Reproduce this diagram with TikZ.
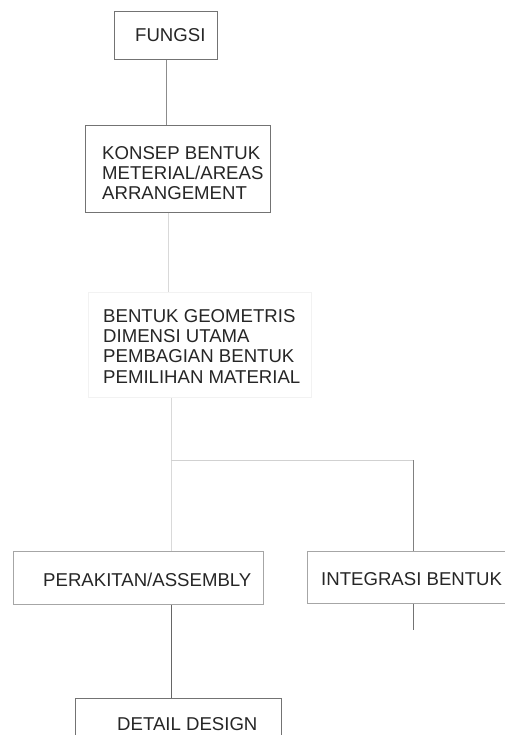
\documentclass[tikz,border=0pt]{standalone}
\usepackage{fontspec}
\setmainfont{Liberation Sans}
\begin{document}
\begin{tikzpicture}[x=1pt,y=-1pt,
  box/.style={draw=#1,line width=0.8pt,inner sep=0pt,anchor=north west},
  box/.default={black!55},
  txt/.style={anchor=base west,inner sep=0pt,text=black!85,font=\fontsize{18.6}{20}\selectfont},
  conn/.style={draw=#1,line width=0.8pt},
  conn/.default={black!45}]
\useasboundingbox (0,0) rectangle (505,735);
\clip (0,0) rectangle (505,735);
\fill[white] (0,0) rectangle (505,735);
% boxes
\node[box, minimum width=103pt, minimum height=48pt] (fungsi) at (114,11) {};
\node[box, minimum width=185pt, minimum height=87pt] (konsep) at (85,125) {};
\node[box=black!5, minimum width=223pt, minimum height=105pt] (bentuk) at (88,292) {};
\node[box=black!35, minimum width=250pt, minimum height=53pt] (perakitan) at (13,551) {};
\node[box=black!35, minimum width=215pt, minimum height=52pt] (integrasi) at (307,551) {};
\node[box=black!55, minimum width=206pt, minimum height=60pt] (detail) at (75,698) {};
% texts
\node[txt] (tfungsi) at (135,42) {FUNGSI};
\node[txt] (tkonsep1) at (102,160) {KONSEP BENTUK};
\node[txt] (tkonsep2) at (102,180) {METERIAL/AREAS};
\node[txt] (tkonsep3) at (102,200) {ARRANGEMENT};
\node[txt] (tbentuk1) at (103,322) {BENTUK GEOMETRIS};
\node[txt] (tbentuk2) at (103,342) {DIMENSI UTAMA};
\node[txt] (tbentuk3) at (103,362) {PEMBAGIAN BENTUK};
\node[txt] (tbentuk4) at (103,383) {PEMILIHAN MATERIAL};
\node[txt] (tperakitan) at (43,586) {PERAKITAN/ASSEMBLY};
\node[txt] (tintegrasi) at (321,585) {INTEGRASI BENTUK};
\node[txt] (tdetail) at (117,730) {DETAIL DESIGN};
% connector guides
\coordinate (xa) at (166,0);
\coordinate (xb) at (168,0);
\coordinate (xc) at (171,0);
\coordinate (xd) at (413,0);
\coordinate (branch) at (171,460);
\coordinate (intend) at (413,630);
% connectors
\draw[conn=black!45] (fungsi.south -| xa) -- (konsep.north -| xa);
\draw[conn=black!15] (konsep.south -| xb) -- (bentuk.north -| xb);
\draw[conn=black!15] (bentuk.south -| xc) -- (perakitan.north -| xc);
\draw[conn=black!18] (branch) -- (branch -| xd);
\draw[conn=black!50] (branch -| xd) -- (integrasi.north -| xd);
\draw[conn=black!55] (integrasi.south -| xd) -- (intend);
\draw[conn=black!60] (perakitan.south -| xc) -- (detail.north -| xc);
\end{tikzpicture}
\end{document}
